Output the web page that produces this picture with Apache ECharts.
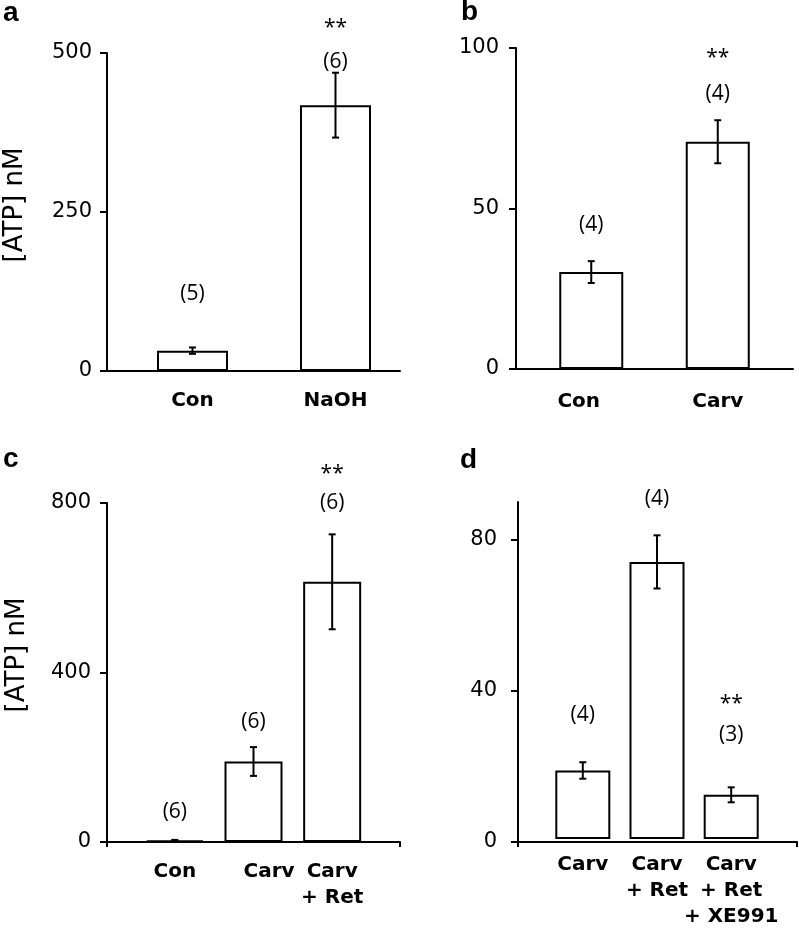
<!DOCTYPE html>
<html><head><meta charset="utf-8">
<script src="https://cdn.jsdelivr.net/npm/echarts@6/dist/echarts.min.js"></script>
<style>html,body{margin:0;padding:0;background:#fff}#chart{width:799px;height:930px}</style>
</head><body><div id="chart"></div>
<script>
// ---- Panel a ----
const catA = ['Con', 'NaOH'];
const valA = [32, 418];
const errA = [5, 51];
const nA = ['(5)', '(6)'];
const nPosA = [121, 486];
const sigA = ['', '**'];
const sigPosA = [null, 540];
const ticksA = [0, 250, 500];

// ---- Panel b ----
const catB = ['Con', 'Carv'];
const valB = [30.2, 70.8];
const errB = [3.4, 6.7];
const nB = ['(4)', '(4)'];
const nPosB = [44.8, 85.6];
const sigB = ['', '**'];
const sigPosB = [null, 97];
const ticksB = [0, 50, 100];

// ---- Panel c ----
const catC = ['Con', 'Carv', 'Carv\n+ Ret'];
const valC = [4, 190, 614];
const errC = [1, 34, 112];
const nC = ['(6)', '(6)', '(6)'];
const nPosC = [70, 282, 800];
const sigC = ['', '', '**'];
const sigPosC = [null, null, 868];
const ticksC = [0, 400, 800];

// ---- Panel d ----
const catD = ['Carv', 'Carv\n+ Ret', 'Carv\n+ Ret\n+ XE991'];
const valD = [18.3, 74.0, 11.8];
const errD = [2.2, 7.1, 2.0];
const nD = ['(4)', '(4)', '(3)'];
const nPosD = [33.2, 90.8, 27.9];
const sigD = ['', '', '**'];
const sigPosD = [null, null, 36];
const ticksD = [0, 40, 80];

const yTitle = '[ATP] nM';
const letters = ['a', 'b', 'c', 'd'];

const panels = [
  {cats: catA, vals: valA, errs: errA, ns: nA, nPos: nPosA, sig: sigA, sigPos: sigPosA, ticks: ticksA, max: 500},
  {cats: catB, vals: valB, errs: errB, ns: nB, nPos: nPosB, sig: sigB, sigPos: sigPosB, ticks: ticksB, max: 100},
  {cats: catC, vals: valC, errs: errC, ns: nC, nPos: nPosC, sig: sigC, sigPos: sigPosC, ticks: ticksC, max: 800},
  {cats: catD, vals: valD, errs: errD, ns: nD, nPos: nPosD, sig: sigD, sigPos: sigPosD, ticks: ticksD, max: 90}
];

// layout (pixels / styles only)
const layouts = [
  {frame: {left: 107, top: 53, width: 293, height: 318}, bars: {left: 121, width: 286}, barWidth: 71, labelMargin: 15, catMargin: 17, xTicks: false, pads: [null, null]},
  {frame: {left: 516, top: 48, width: 277, height: 321}, bars: {left: 528, width: 253}, barWidth: 64, labelMargin: 17, catMargin: 20, xTicks: false, pads: [[0, 25, 0, 0], null]},
  {frame: {left: 107, top: 503, width: 293, height: 339}, bars: {left: 135.5, width: 236}, barWidth: 58, labelMargin: 16, catMargin: 17, xTicks: true, pads: [null, [0, 0, 0, 31], null]},
  {frame: {left: 518, top: 502, width: 279, height: 340}, bars: {left: 545.7, width: 222.6}, barWidth: 55, labelMargin: 21, catMargin: 13, xTicks: true, pads: [null, null, null]}
];

const chart = echarts.init(document.getElementById('chart'), null, {renderer: 'canvas'});

const grid = [], xAxis = [], yAxis = [], series = [];
const AX = {color: '#000', width: 2};

panels.forEach((p, i) => {
  const L = layouts[i];
  const gFrame = grid.length;
  grid.push({left: L.frame.left, top: L.frame.top, width: L.frame.width, height: L.frame.height});
  const gBar = grid.length;
  grid.push({left: L.bars.left, top: L.frame.top, width: L.bars.width, height: L.frame.height});

  // frame axes
  xAxis.push({gridIndex: gFrame, type: 'value', min: 0, max: 1, interval: 1,
    axisLine: {show: true, lineStyle: AX}, splitLine: {show: false},
    axisTick: {show: L.xTicks, length: 5, lineStyle: AX}, axisLabel: {show: false}});
  yAxis.push({gridIndex: gFrame, type: 'value', min: 0, max: p.max, interval: p.ticks[1] - p.ticks[0],
    axisLine: {show: true, lineStyle: AX}, splitLine: {show: false},
    axisTick: {show: true, length: 7, inside: false, lineStyle: AX, customValues: p.ticks},
    axisLabel: {show: true, margin: L.labelMargin, color: '#000', fontFamily: 'DejaVu Sans', fontSize: 21,
      customValues: p.ticks}});

  // bar axes
  const xb = xAxis.length;
  xAxis.push({gridIndex: gBar, type: 'category',
    data: p.cats.map((c, k) => L.pads[k] ? {value: c, textStyle: {padding: L.pads[k]}} : c),
    axisLine: {show: false}, axisTick: {show: false}, splitLine: {show: false},
    axisLabel: {interval: 0, margin: L.catMargin, color: '#000', fontFamily: 'DejaVu Sans', fontWeight: 'bold',
      fontSize: 20, lineHeight: 26}});
  const yb = yAxis.length;
  yAxis.push({gridIndex: gBar, type: 'value', min: 0, max: p.max, show: false});

  series.push({type: 'bar', xAxisIndex: xb, yAxisIndex: yb, data: p.vals, barWidth: L.barWidth,
    itemStyle: {color: '#fff', borderColor: '#000', borderWidth: 2}, z: 2});

  series.push({type: 'custom', xAxisIndex: xb, yAxisIndex: yb, z: 3,
    data: p.vals.map((v, k) => [k, v, p.errs[k]]),
    renderItem: (params, api) => {
      const x = api.value(0), y = api.value(1), e = api.value(2);
      const t = api.coord([x, y + e]), b = api.coord([x, y - e]);
      const st = {stroke: '#000', lineWidth: 2};
      const hw = 3.5;
      return {type: 'group', children: [
        {type: 'line', shape: {x1: t[0], y1: t[1], x2: b[0], y2: b[1]}, style: st},
        {type: 'line', shape: {x1: t[0] - hw, y1: t[1], x2: t[0] + hw, y2: t[1]}, style: st},
        {type: 'line', shape: {x1: b[0] - hw, y1: b[1], x2: b[0] + hw, y2: b[1]}, style: st}
      ]};
    }});

  const labelStyle = {show: true, position: 'inside', color: '#000', opacity: 1, fontFamily: 'Open Sans', fontSize: 21};
  const sc = {type: 'scatter', xAxisIndex: xb, yAxisIndex: yb, symbolSize: 0, clip: false, z: 4,
    itemStyle: {opacity: 1}};
  series.push({...sc,
    data: p.ns.map((t, k) => ({value: [k, p.nPos[k]], label: {...labelStyle, formatter: t}}))});
  series.push({...sc,
    data: p.sig.map((t, k) => t ? ({value: [k, p.sigPos[k]], label: {...labelStyle, formatter: t}}) : null)
      .filter(d => d)});
});

const letterPos = [[3, 13], [461, 12], [3, 459], [460, 460]];
const graphic = letters.map((l, i) => ({type: 'text', x: letterPos[i][0], y: letterPos[i][1],
  style: {text: l, fontFamily: 'Liberation Sans', fontWeight: 'bold', fontSize: 28, fill: '#000',
    align: 'left', verticalAlign: 'middle'}}));
[[15, 205], [17, 655]].forEach(pos => graphic.push({type: 'text', x: pos[0], y: pos[1], rotation: Math.PI / 2,
  style: {text: yTitle, fontFamily: 'DejaVu Sans', fontSize: 26, fill: '#000', align: 'center', verticalAlign: 'middle'}}));

chart.setOption({animation: false, backgroundColor: '#fff', grid, xAxis, yAxis, series, graphic});
</script>
</body></html>
